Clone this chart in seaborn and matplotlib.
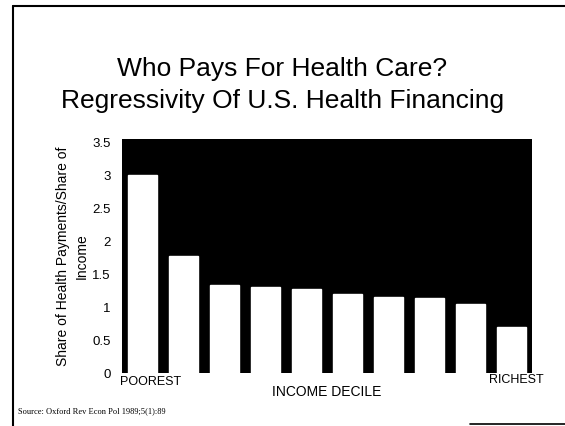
"""Who pays for health care -- regressivity of U.S. health financing (slide recreation)."""

import matplotlib

matplotlib.use("Agg")
import matplotlib.pyplot as plt
import matplotlib.transforms as mtransforms
import pandas as pd
import seaborn as sns

# data
deciles = list(range(1, 11))
ratio = [3.0, 1.77, 1.33, 1.30, 1.27, 1.19, 1.15, 1.13, 1.05, 0.70]
y_ticks = [0, 0.5, 1, 1.5, 2, 2.5, 3, 3.5]
y_tick_labels = ["0", "0.5", "1", "1.5", "2", "2.5", "3", "3.5"]
end_labels = ["POOREST", "RICHEST"]

title = "Who Pays For Health Care?\nRegressivity Of U.S. Health Financing"
y_label = "Share of Health Payments/Share of\nIncome"
x_label = "INCOME DECILE"
source = "Source: Oxford Rev Econ Pol 1989;5(1):89"

sns.set_theme(style="white")
plt.rcParams["font.family"] = ["Liberation Sans", "DejaVu Sans"]
plt.rcParams["text.color"] = "black"
plt.rcParams["axes.labelcolor"] = "black"
plt.rcParams["ytick.color"] = "black"

df = pd.DataFrame({"decile": deciles, "ratio": ratio})

fig = plt.figure(figsize=(5.65, 4.26), dpi=100)
ax = fig.add_axes([0.216, 0.1244, 0.726, 0.55])
ax.set_facecolor("black")

sns.barplot(data=df, x="decile", y="ratio", color="white", width=0.72,
            saturation=1, ax=ax)

ax.set_ylim(0, 3.55)
ax.set_xlim(-0.5, 9.5)
ax.set_yticks(y_ticks)
ax.set_yticklabels(y_tick_labels, fontsize=9.5)
ax.tick_params(axis="y", length=0, pad=8)
ax.set_xticks([])
ax.set_xlabel("")
ax.set_ylabel(y_label, fontsize=10, labelpad=3, linespacing=1.35)
for sp in ax.spines.values():
    sp.set_visible(False)

# axis end labels below the bars
trans = mtransforms.blended_transform_factory(ax.transData, fig.transFigure)
ax.text(0.2, 1 - 382 / 426, end_labels[0], transform=trans, ha="center",
        va="center", fontsize=9)
ax.text(9.1, 1 - 380 / 426, end_labels[1], transform=trans, ha="center",
        va="center", fontsize=9)
ax.text(4.5, 1 - 392 / 426, x_label, transform=trans, ha="center",
        va="center", fontsize=10)

fig.text(0.5, 1 - 85 / 426, title, ha="center", va="center", fontsize=19,
         linespacing=1.4)
fig.text(18 / 565, 1 - 411 / 426, source, ha="left", va="center", fontsize=6,
         family=["Liberation Serif", "DejaVu Serif"])

# slide frame (left and top edges, partial bottom)
fig.add_artist(plt.Line2D([13 / 565, 13 / 565], [0, 1 - 6 / 426],
                          transform=fig.transFigure, color="black", lw=1.5))
fig.add_artist(plt.Line2D([13 / 565, 1], [1 - 6 / 426, 1 - 6 / 426],
                          transform=fig.transFigure, color="black", lw=1.5))
fig.add_artist(plt.Line2D([470 / 565, 1], [1 - 424 / 426, 1 - 424 / 426],
                          transform=fig.transFigure, color="black", lw=1.2))

fig.savefig("out.png", dpi=100, facecolor="white")
